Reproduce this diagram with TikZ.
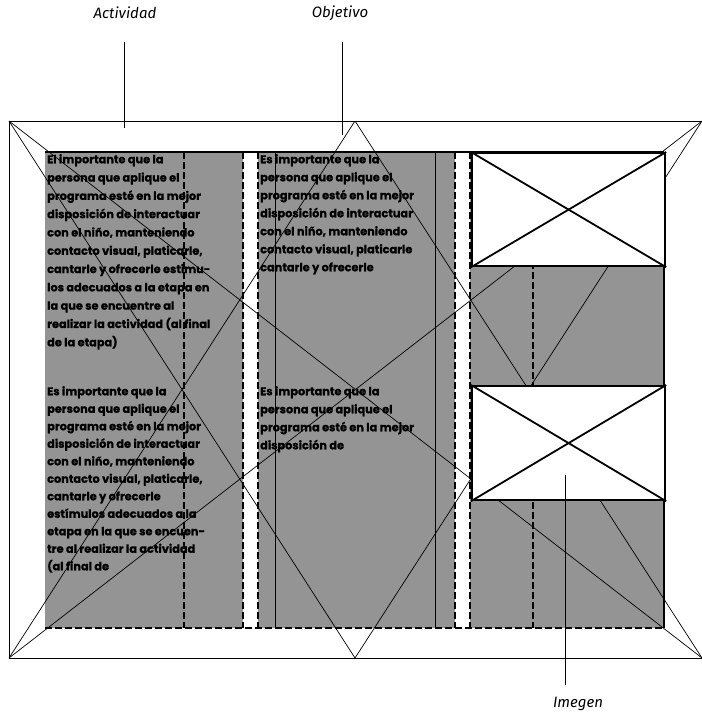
\documentclass[tikz,border=0pt]{standalone}
\usepackage{fontspec}
\newfontfamily\txtfont{Poppins}[BoldFeatures={FakeBold=0.8}]
\newfontfamily\labfont{Fira Sans}
\begin{document}
\begin{tikzpicture}[x=1pt,y=-1pt,
  shadecol/.style={fill=black!42,draw=none},
  thinline/.style={line width=0.7pt},
  colrule/.style={line width=1.3pt,dash pattern=on 7pt off 3pt},
  imgbox/.style={draw,line width=2.2pt,fill=white,inner sep=0pt,anchor=north west,minimum width=193pt},
  imgx/.style={line width=1.8pt},
  para/.style={font=\txtfont\bfseries\fontsize{11.3}{18}\selectfont,align=left,anchor=north west,inner sep=0pt},
  lab/.style={font=\labfont\itshape\fontsize{15}{17}\selectfont},
  leader/.style={line width=1pt}]
\useasboundingbox (0,0) rectangle (702,716);
% outer frame corners
\coordinate (OTL) at (9,121);
\coordinate (OTR) at (702,121);
\coordinate (OBL) at (9,658);
\coordinate (OBR) at (702,658);
\coordinate (OTM) at (355,121);
\coordinate (OBM) at (355,658);
\draw[thinline] (OTR) -- (OTL) -- (OBL) -- (OBR);
% shaded columns
\fill[shadecol] (45,152) rectangle (243,628);
\fill[shadecol] (258,152) rectangle (455,628);
\fill[shadecol] (470,152) rectangle (664,628);
% diagonals
\draw[thinline] (OTL) -- (OBR);
\draw[thinline] (OBL) -- (OTR);
\draw[thinline] (OTL) -- (OBM);
\draw[thinline] (OBL) -- (OTM);
\draw[thinline] (OTM) -- (OBR);
\draw[thinline] (OBM) -- (OTR);
% panel top and bottom
\draw[line width=1.4pt] (45,152) -- (664,152);
\draw[colrule] (45,628) -- (664,628);
% column rules
\draw[colrule] (184,152) -- (184,628);
\draw[colrule] (243,152) -- (243,628);
\draw[colrule] (258,152) -- (258,628);
\draw[colrule] (455,152) -- (455,628);
\draw[thinline] (275,152) -- (275,628);
\draw[thinline] (435,152) -- (435,628);
\draw[colrule] (470,152) -- (470,628);
\draw[colrule] (533,152) -- (533,628);
\draw[line width=1.8pt] (664,152) -- (664,628);
% image boxes
\node[imgbox,minimum height=113pt] (img1) at (471,152) {};
\draw[imgx] (img1.north west) -- (img1.south east);
\draw[imgx] (img1.north east) -- (img1.south west);
\node[imgbox,minimum height=114pt] (img2) at (471,385) {};
\draw[imgx] (img2.north west) -- (img2.south east);
\draw[imgx] (img2.north east) -- (img2.south west);
% texts
\node[para,font=\txtfont\bfseries\fontsize{11.3}{18.3}\selectfont] (p1) at (47,154) {El importante que la\\persona que aplique el\\programa esté en la mejor\\disposición de interactuar\\con el niño, manteniendo\\contacto visual, platicarle,\\cantarle y ofrecerle estimu-\\los adecuados a la etapa en\\la que se encuentre al\\realizar la actividad (al final\\de la etapa)};
\node[para,font=\txtfont\bfseries\fontsize{11.3}{17.5}\selectfont] (p2) at (47,386) {Es importante que la\\persona que aplique el\\programa esté en la mejor\\disposición de interactuar\\con el niño, manteniendo\\contacto visual, platicarle,\\cantarle y ofrecerle\\estímulos adecuados a la\\etapa en la que se encuen-\\tre al realizar la actividad\\(al final de};
\node[para] (p3) at (260,154) {Es importante que la\\persona que aplique el\\programa esté en la mejor\\disposición de interactuar\\con el niño, manteniendo\\contacto visual, platicarle\\cantarle y ofrecerle};
\node[para] (p4) at (260,386) {Es importante que la\\persona que aplique el\\programa esté en la mejor\\disposición de};
% labels and leaders
\node[lab] (act) at (125,13) {Actividad};
\node[lab] (obj) at (340,13) {Objetivo};
\node[lab] (img) at (578,704) {Imegen};
\coordinate (actA) at (124,42);
\coordinate (actB) at (124,128);
\coordinate (objA) at (342,42);
\coordinate (objB) at (342,135);
\coordinate (imgA) at (565,475);
\coordinate (imgB) at (565,685);
\draw[leader] (actA) -- (actB);
\draw[leader] (objA) -- (objB);
\draw[leader] (imgA) -- (imgB);
\end{tikzpicture}
\end{document}
